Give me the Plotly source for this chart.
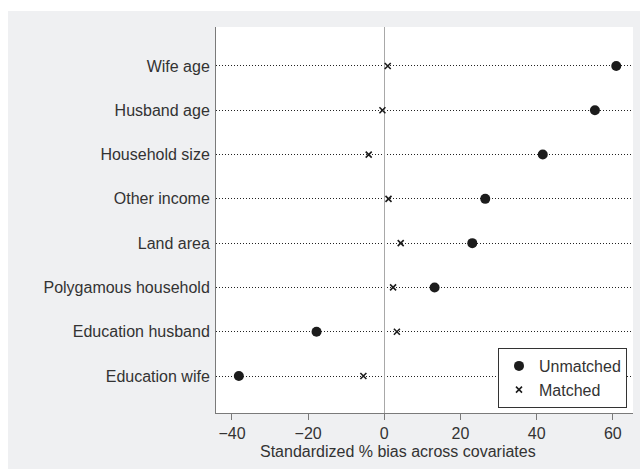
import plotly.graph_objects as go

# Covariates (top to bottom) and standardized % bias before/after matching
covariates = [
    "Wife age",
    "Husband age",
    "Household size",
    "Other income",
    "Land area",
    "Polygamous household",
    "Education husband",
    "Education wife",
]
bias_unmatched = [60.9, 55.3, 41.6, 26.5, 23.1, 13.2, -17.8, -38.2]
bias_matched = [0.9, -0.5, -4.1, 1.1, 4.3, 2.3, 3.3, -5.5]
x_ticks = [-40, -20, 0, 20, 40, 60]
x_title = "Standardized % bias across covariates"

INK = "#1c1c1c"
TEXT = "#333333"
AXIS = "#7a7a7a"
PANEL = "#eff0f2"
FONT = "Liberation Sans, Arial, Helvetica, sans-serif"

ypos = list(range(len(covariates)))

fig = go.Figure()
fig.add_trace(go.Scatter(
    x=bias_unmatched, y=ypos, mode="markers", name="Unmatched",
    marker=dict(symbol="circle", size=10, color=INK),
))
fig.add_trace(go.Scatter(
    x=bias_matched, y=ypos, mode="markers", name="Matched",
    marker=dict(symbol="x-thin", size=6, color=INK,
                line=dict(width=1.6, color=INK)),
))

fig.update_layout(
    width=640, height=469,
    margin=dict(l=216, r=7, t=27, b=56),
    paper_bgcolor=PANEL,
    plot_bgcolor="white",
    font=dict(family=FONT, size=16, color=TEXT),
    showlegend=True,
    legend=dict(
        x=0.9856, y=0.013, xanchor="right", yanchor="bottom",
        bgcolor="white", bordercolor="#333333", borderwidth=1,
        font=dict(size=16, color=TEXT),
        tracegroupgap=0, itemsizing="trace",
    ),
    xaxis=dict(
        range=[-44.2, 65.3],
        tickmode="array", tickvals=x_ticks,
        ticks="outside", ticklen=6, tickcolor=AXIS, tickwidth=1,
        showline=True, linecolor=AXIS, linewidth=1,
        showgrid=False,
        zeroline=True, zerolinecolor="#a8a8a8", zerolinewidth=1,
        tickfont=dict(size=16, color=TEXT),
    ),
    yaxis=dict(
        range=[7.835, -0.88],
        tickmode="array", tickvals=ypos, ticktext=covariates,
        ticks="", ticklabelstandoff=2,
        showline=True, linecolor=AXIS, linewidth=1,
        showgrid=True, gridcolor="#222222", gridwidth=1, griddash="1px,2px",
        zeroline=False,
        tickfont=dict(size=16, color=TEXT),
    ),
    annotations=[
        dict(text=x_title, xref="paper", yref="paper",
             x=(398 - 216) / 417, y=(413 - 452) / 386,
             xanchor="center", yanchor="middle", showarrow=False,
             font=dict(size=16, color=TEXT)),
    ],
    shapes=[
        # white margins framing the grey chart panel
        dict(type="rect", xref="paper", yref="paper",
             x0=-0.6, x1=(8 - 216) / 417, y0=-0.2, y1=1.2,
             fillcolor="white", line=dict(width=0), layer="above"),
        dict(type="rect", xref="paper", yref="paper",
             x0=-0.6, x1=1.2, y0=(413 - 11) / 386, y1=1.2,
             fillcolor="white", line=dict(width=0), layer="above"),
    ],
)

fig.write_html("out.html")
